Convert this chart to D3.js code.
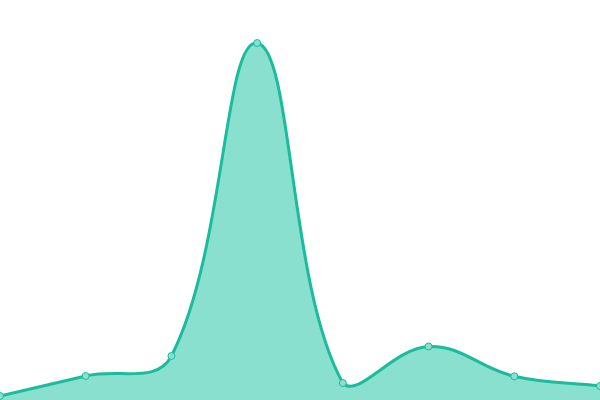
<!DOCTYPE html>
<html><head><meta charset="utf-8">
<script src="https://cdn.jsdelivr.net/npm/d3@7/dist/d3.min.js"></script>
<style>html,body{margin:0;padding:0;background:#fff;overflow:hidden}</style>
</head><body><svg id="c" width="600" height="400"></svg>
<script>
const categories = ["A","B","C","D","E","F","G","H"];
const values = [4, 24, 44, 357, 17, 53.5, 23.7, 14];

const W = 600, H = 400;
const tension = 0.4;
const svg = d3.select("#c");
const x = d3.scalePoint().domain(categories).range([0, W]);
const y = d3.scaleLinear().domain([0, 400]).range([H, 0]);
const pts = categories.map((c,i)=>[x(c), y(values[i])]);

// length-weighted spline control points, capped to the chart area
function controlPoints(p) {
  const cl = q => [Math.min(Math.max(q[0],0),W), Math.min(Math.max(q[1],0),H)];
  return p.map((b, i) => {
    const a = p[i-1] || b, c = p[i+1] || b;
    const d01 = Math.hypot(b[0]-a[0], b[1]-a[1]), d12 = Math.hypot(c[0]-b[0], c[1]-b[1]);
    let s01 = d01/(d01+d12), s12 = d12/(d01+d12);
    if (isNaN(s01)) s01 = 0; if (isNaN(s12)) s12 = 0;
    const fa = tension*s01, fb = tension*s12;
    return {
      prev: cl([b[0]-fa*(c[0]-a[0]), b[1]-fa*(c[1]-a[1])]),
      next: cl([b[0]+fb*(c[0]-a[0]), b[1]+fb*(c[1]-a[1])])
    };
  });
}
function curvePath(ctx, p) {
  const cps = controlPoints(p);
  ctx.moveTo(p[0][0], p[0][1]);
  for (let i = 1; i < p.length; i++) {
    const c1 = cps[i-1].next, c2 = cps[i].prev;
    ctx.bezierCurveTo(c1[0], c1[1], c2[0], c2[1], p[i][0], p[i][1]);
  }
}
const lineP = d3.path(); curvePath(lineP, pts);
const areaP = d3.path(); curvePath(areaP, pts);
areaP.lineTo(pts[pts.length-1][0], y(0)); areaP.lineTo(pts[0][0], y(0)); areaP.closePath();

svg.append("path").attr("d", areaP.toString()).attr("fill", "#8ae0cf");
svg.append("path").attr("d", lineP.toString())
  .attr("fill", "none").attr("stroke", "#1abc9c").attr("stroke-width", 3).attr("stroke-linejoin","round");
svg.selectAll("circle").data(pts).join("circle")
  .attr("cx", d=>d[0]).attr("cy", d=>d[1]).attr("r", 3.5)
  .attr("fill", "#8ae0cf").attr("stroke", "#1abc9c").attr("stroke-width", 1);
</script></body></html>
